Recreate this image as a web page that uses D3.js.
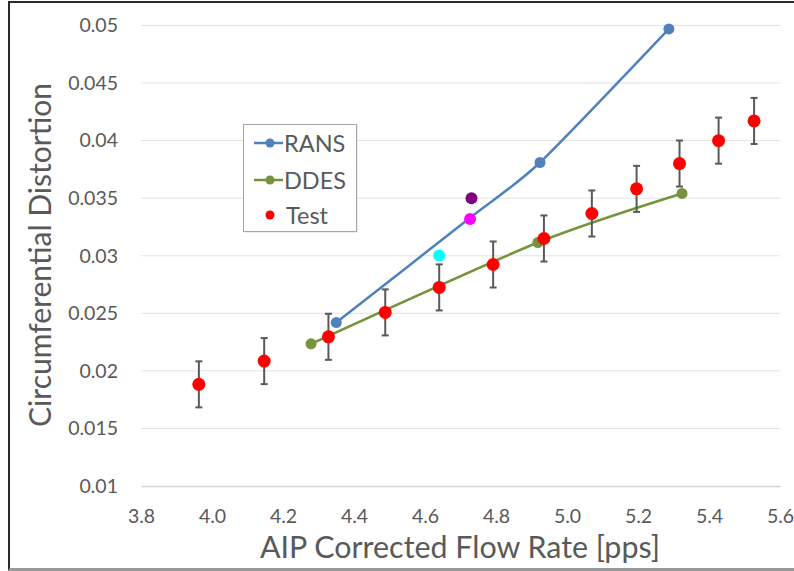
<!DOCTYPE html>
<html><head><meta charset="utf-8">
<script src="https://cdn.jsdelivr.net/npm/d3@7"></script>
<style>html,body{margin:0;padding:0;background:#fff;}svg{display:block;}</style>
</head><body>
<svg id="chart" width="794" height="571"></svg>
<script>
const xTicks = [3.8, 4.0, 4.2, 4.4, 4.6, 4.8, 5.0, 5.2, 5.4, 5.6];
const yTicks = [0.01, 0.015, 0.02, 0.025, 0.03, 0.035, 0.04, 0.045, 0.05];
const ransX = [4.35, 4.727, 4.924, 5.287];
const ransY = [0.0242, 0.0333, 0.0381, 0.0497];
const ddesX = [4.279, 4.918, 5.324];
const ddesY = [0.02235, 0.03115, 0.03541];
const testX = [3.963, 4.147, 4.328, 4.488, 4.640, 4.792, 4.935, 5.070, 5.196, 5.317, 5.427, 5.527];
const testY = [0.01883, 0.02085, 0.02296, 0.02508, 0.02725, 0.02924, 0.0315, 0.03367, 0.03581, 0.03801, 0.0400, 0.04171];
const testErr = [0.002, 0.002, 0.002, 0.002, 0.002, 0.002, 0.002, 0.002, 0.002, 0.002, 0.002, 0.002];
const extraNames = ["cyan", "magenta", "purple"];
const extraX = [4.64, 4.727, 4.731];
const extraY = [0.03003, 0.0332, 0.0350];
const extraColors = ["#00FFFF", "#FF00FF", "#800080"];

const svg = d3.select("#chart");
const font = "Lato, 'Open Sans', sans-serif";
const L = 141, R = 780, T = 25.5, B = 486;
const x = d3.scaleLinear().domain([3.8, 5.6]).range([L, R]);
const y = d3.scaleLinear().domain([0.01, 0.05]).range([B, T]);

// outer frame
svg.append("rect").attr("x", 9).attr("y", 2).attr("width", 800).attr("height", 567.5)
  .attr("fill", "#fff").attr("stroke", "#2b2b2b").attr("stroke-width", 2);
svg.append("line").attr("x1", 9).attr("x2", 794).attr("y1", 569.5).attr("y2", 569.5)
  .attr("stroke", "#9a9a9a").attr("stroke-width", 2);

// gridlines
svg.append("g").selectAll("line").data(yTicks.slice(1)).join("line")
  .attr("x1", L).attr("x2", R).attr("y1", d => y(d)).attr("y2", d => y(d))
  .attr("stroke", "#e3e3e3").attr("stroke-width", 1);

// x axis
const xAxis = svg.append("g").attr("transform", `translate(0,${B})`)
  .call(d3.axisBottom(x).tickValues(xTicks).tickFormat(d3.format(".1f")).tickSize(0).tickPadding(23));
xAxis.select(".domain").attr("stroke", "#d4d4d4").attr("stroke-width", 1.5);
xAxis.selectAll("text").attr("font-family", font).attr("font-size", 19.5).attr("fill", "#595959");

// y axis
const yAxis = svg.append("g").attr("transform", `translate(${L},0)`)
  .call(d3.axisLeft(y).tickValues(yTicks).tickFormat(d => String(+d.toFixed(3))).tickSize(0).tickPadding(23));
yAxis.select(".domain").remove();
yAxis.selectAll("text").attr("font-family", font).attr("font-size", 19.5).attr("fill", "#595959");

// axis titles
svg.append("text").attr("x", 460).attr("y", 558).attr("text-anchor", "middle")
  .attr("font-family", font).attr("font-size", 30).attr("fill", "#595959")
  .attr("textLength", 400).attr("lengthAdjust", "spacingAndGlyphs")
  .text("AIP Corrected Flow Rate [pps]");
svg.append("text").attr("transform", "translate(51,255) rotate(-90)").attr("text-anchor", "middle")
  .attr("font-family", font).attr("font-size", 30).attr("fill", "#595959")
  .attr("textLength", 344).attr("lengthAdjust", "spacingAndGlyphs")
  .text("Circumferential Distortion");

const line = d3.line().x(d => x(d[0])).y(d => y(d[1])).curve(d3.curveCardinal.tension(0.3));

// RANS
const rans = ransX.map((v, i) => [v, ransY[i]]);
svg.append("path").datum(rans).attr("d", line).attr("fill", "none")
  .attr("stroke", "#4F81BD").attr("stroke-width", 2.5);
svg.append("g").selectAll("circle").data([rans[0], rans[2], rans[3]]).join("circle")
  .attr("cx", d => x(d[0])).attr("cy", d => y(d[1])).attr("r", 5.5).attr("fill", "#4F81BD");

// DDES
const ddes = ddesX.map((v, i) => [v, ddesY[i]]);
svg.append("path").datum(ddes).attr("d", line).attr("fill", "none")
  .attr("stroke", "#77933C").attr("stroke-width", 2.5);
svg.append("g").selectAll("circle").data(ddes).join("circle")
  .attr("cx", d => x(d[0])).attr("cy", d => y(d[1])).attr("r", 5.5).attr("fill", "#77933C");

// extra points
svg.append("g").selectAll("circle").data(extraX.map((v, i) => i)).join("circle")
  .attr("cx", i => x(extraX[i])).attr("cy", i => y(extraY[i])).attr("r", 6).attr("fill", i => extraColors[i]);

// Test error bars
const test = testX.map((v, i) => ({x: v, y: testY[i], e: testErr[i]}));
const eb = svg.append("g").attr("stroke", "#595959").attr("stroke-width", 2);
eb.selectAll(".v").data(test).join("line")
  .attr("x1", d => x(d.x)).attr("x2", d => x(d.x)).attr("y1", d => y(d.y + d.e)).attr("y2", d => y(d.y - d.e));
eb.selectAll(".t").data(test).join("line")
  .attr("x1", d => x(d.x) - 3.5).attr("x2", d => x(d.x) + 3.5).attr("y1", d => y(d.y + d.e)).attr("y2", d => y(d.y + d.e));
eb.selectAll(".b").data(test).join("line")
  .attr("x1", d => x(d.x) - 3.5).attr("x2", d => x(d.x) + 3.5).attr("y1", d => y(d.y - d.e)).attr("y2", d => y(d.y - d.e));
svg.append("g").selectAll("circle").data(test).join("circle")
  .attr("cx", d => x(d.x)).attr("cy", d => y(d.y)).attr("r", 6.5).attr("fill", "#FF0000");

// legend
const lg = svg.append("g");
lg.append("rect").attr("x", 244.5).attr("y", 125.5).attr("width", 113).attr("height", 107)
  .attr("fill", "#bbb").attr("opacity", 0.5);
lg.append("rect").attr("x", 243.5).attr("y", 124.5).attr("width", 113).attr("height", 107)
  .attr("fill", "#fff").attr("stroke", "#a6a6a6").attr("stroke-width", 1);
const legendItems = [
  {name: "RANS", color: "#4F81BD", line: true, y: 143},
  {name: "DDES", color: "#77933C", line: true, y: 180},
  {name: "Test", color: "#FF0000", line: false, y: 215}
];
legendItems.forEach(d => {
  if (d.line) lg.append("line").attr("x1", 254).attr("x2", 283).attr("y1", d.y).attr("y2", d.y)
    .attr("stroke", d.color).attr("stroke-width", 2.5);
  lg.append("circle").attr("cx", 270).attr("cy", d.y).attr("r", 4.5).attr("fill", d.color);
  lg.append("text").attr("x", d.line ? 284 : 286).attr("y", d.y + 8.5).attr("font-family", font)
    .attr("font-size", 23.5).attr("fill", "#595959").text(d.name);
});
</script>
</body></html>
